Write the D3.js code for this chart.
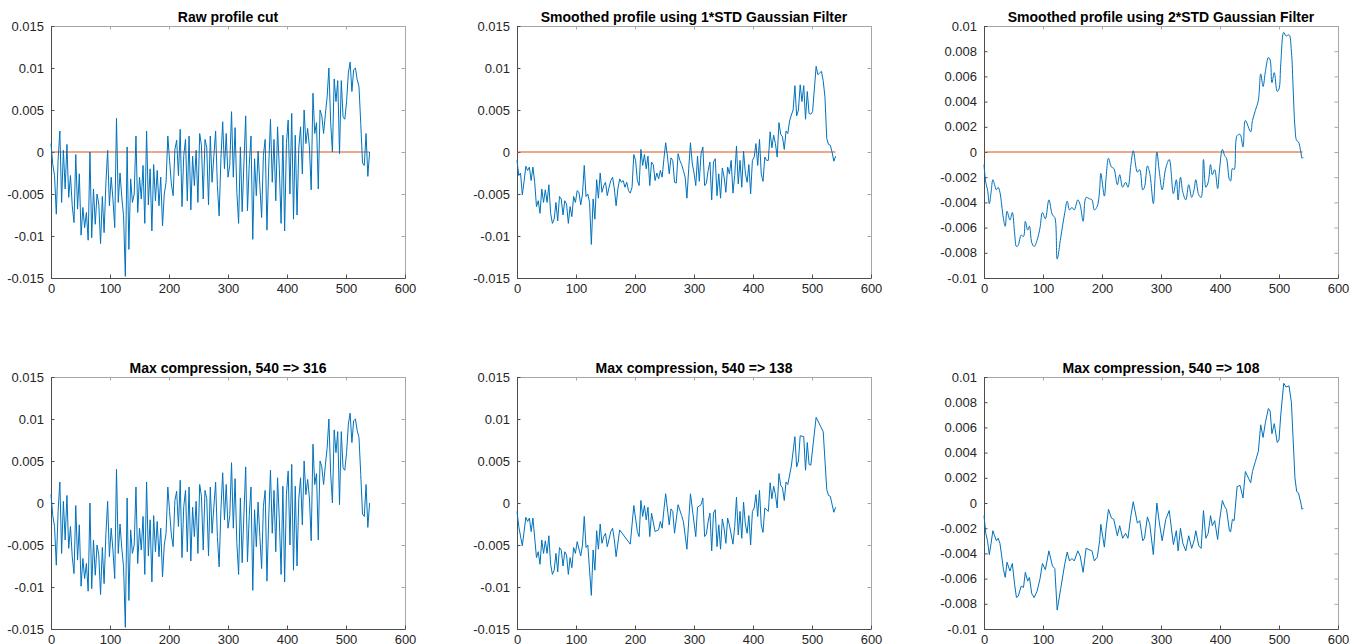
<!DOCTYPE html>
<html>
<head>
<meta charset="utf-8">
<script src="https://cdn.jsdelivr.net/npm/d3@7"></script>
<style>
  body { margin: 0; background: #fff; }
  svg { display: block; }
  .tick text { font-family: "Liberation Sans", Arial, sans-serif; font-size: 13px; fill: #262626; }
  .title { font-family: "Liberation Sans", Arial, sans-serif; font-size: 14px; font-weight: bold; fill: #000; }
</style>
</head>
<body>
<svg id="chart" width="1361" height="644"></svg>
<script>
// raw profile, one value every 3 samples (x = 0, 3, ..., 540)
const rawProfile = [
  0.001,-0.0015,-0.0028,-0.0074,-0.001,0.0025,-0.006,0.0002,-0.0044,0.0009,
  -0.0054,-0.0028,-0.0064,-0.0084,-0.0003,-0.0068,-0.0026,-0.0099,-0.0066,-0.009,
  -0.0072,-0.0105,0,-0.0102,-0.0044,-0.0086,-0.005,-0.0062,-0.0109,-0.0053,
  -0.0096,-0.0038,0.0002,-0.0064,-0.003,-0.0056,-0.009,0.004,-0.006,-0.0025,
  -0.0054,-0.0076,-0.0148,0.0006,-0.0116,-0.0032,-0.006,-0.005,0.0019,-0.0072,
  -0.003,-0.0056,-0.0016,-0.0085,0.0025,-0.0063,-0.002,-0.0094,-0.0015,-0.0058,
  -0.0022,-0.0064,-0.003,-0.0088,-0.005,-0.0036,0.0019,-0.001,-0.0038,-0.0052,
  0.0003,0.0014,-0.0028,0.0027,-0.0065,-0.0004,0.0015,-0.0058,0.0019,-0.0069,
  -0.0005,-0.004,0.0002,-0.006,0.0022,0.0008,-0.0056,0.0015,0.0005,-0.0063,
  0.0019,-0.0036,-0.0005,0.0025,-0.004,-0.0076,-0.0008,0.0036,-0.002,0.0022,
  -0.003,-0.0015,0.0048,-0.003,0.0029,-0.0048,-0.0085,0.0006,-0.0071,-0.0013,
  0.0043,-0.007,-0.0015,0.0019,-0.0104,-0.0008,-0.0052,0.0001,-0.004,-0.0078,
  -0.0004,0.0015,-0.0093,-0.0018,0.0039,-0.0036,0.0015,-0.0058,0.003,-0.002,
  -0.0085,0.002,-0.0094,0.001,0.0038,-0.005,0.0046,-0.008,0.002,-0.0075,
  0.0005,0.003,-0.0026,0.005,0.001,0.0028,0.0006,-0.0045,0.007,0.0022,
  0.0035,-0.0044,0.005,0.0043,0.0022,0.0045,0.0065,0.01,0.0035,0,
  0.0087,0.006,0.0085,-0.0002,0.0085,0.0042,0.0039,0.006,0.0094,0.0107,
  0.0072,0.0098,0.01,0.0086,0.0078,0.0034,-0.0013,-0.0016,0.0022,-0.0029,
  0
];

// 1*STD gaussian smoothed, same x grid
const smooth1 = [
  -0.001,-0.0028,-0.0025,-0.0051,-0.0035,-0.0017,-0.0022,-0.0018,-0.0034,-0.0018,
  -0.0036,-0.0065,-0.0058,-0.0073,-0.0044,-0.006,-0.0045,-0.006,-0.0039,-0.0073,
  -0.0085,-0.008,-0.006,-0.0082,-0.0053,-0.0056,-0.0075,-0.0058,-0.0062,-0.0085,
  -0.0065,-0.0077,-0.0053,-0.006,-0.0046,-0.0048,-0.0063,-0.005,-0.0016,-0.0053,
  -0.005,-0.006,-0.011,-0.0056,-0.008,-0.0033,-0.0055,-0.0025,-0.0048,-0.004,
  -0.0036,-0.0052,-0.0042,-0.0034,-0.003,-0.0044,-0.0064,-0.0044,-0.0032,-0.0036,
  -0.0034,-0.0042,-0.0036,-0.0046,-0.0049,-0.0042,-0.0003,-0.001,-0.0034,-0.004,
  0.0003,-0.0016,-0.0003,-0.002,-0.0005,-0.004,-0.0012,-0.0015,-0.0034,-0.0025,
  -0.0032,-0.0022,-0.003,-0.0008,0.0011,-0.0005,-0.0026,-0.0007,-0.001,-0.0036,
  -0.0037,-0.0002,-0.001,-0.0015,-0.0022,-0.003,-0.0055,-0.002,0.0011,-0.0013,
  -0.0025,-0.004,-0.0005,-0.0035,-0.0002,0.0006,-0.004,-0.0037,-0.0022,-0.0012,
  -0.0057,-0.0012,-0.0008,-0.0052,-0.0026,-0.0055,-0.0019,-0.003,-0.0048,-0.0018,
  -0.0026,-0.001,-0.0049,-0.0028,0.0007,-0.0038,-0.001,-0.0042,0.0001,-0.0025,
  -0.0036,-0.0015,-0.005,-0.001,-0.0006,0.001,-0.0016,0.0015,-0.0026,-0.0035,
  -0.0006,-0.001,-0.001,0.0024,0.0005,0.002,0.001,-0.0006,0.0035,0.0021,
  0.0018,0.0003,0.0025,0.0022,0.0037,0.0044,0.005,0.0079,0.0043,0.005,
  0.008,0.006,0.0079,0.0039,0.0072,0.0046,0.0045,0.0048,0.0075,0.0102,
  0.0092,0.0094,0.0096,0.0085,0.0065,0.0016,0.0009,0.0008,0,-0.0011,
  -0.0005
];

// samples kept by the 540 => 138 compression (x positions)
const keep138 = [0,3,9,15,18,21,24,27,33,36,39,42,45,48,51,54,57,60,63,66,69,72,75,78,81,84,87,90,93,96,99,102,108,111,114,117,120,126,129,132,135,138,141,144,147,150,153,159,162,165,168,174,192,198,204,207,210,213,216,219,222,225,228,234,240,243,246,249,252,258,261,264,267,273,279,282,288,294,303,306,312,315,318,321,324,327,330,333,336,339,342,345,348,351,354,357,360,366,369,372,375,378,381,384,387,390,393,396,399,402,405,408,411,414,417,420,426,429,432,435,438,441,444,447,450,453,456,459,465,471,474,477,480,486,489,492,495,498,507,519,525,528,531,537,540];

// 2*STD gaussian smoothed, [x, value]
const smooth2 = [
  [0,-0.001],[3,-0.0024],[6,-0.003],[9,-0.0041],[12,-0.0032],[15,-0.0022],[18,-0.0026],[21,-0.003],[24,-0.0028],[27,-0.0032],
  [30,-0.0042],[33,-0.0053],[36,-0.0059],[39,-0.0047],[44,-0.0054],[48,-0.0048],[52,-0.0065],[55,-0.0075],[58,-0.0074],[63,-0.0066],
  [67,-0.0067],[70,-0.0055],[74,-0.0062],[77,-0.0059],[81,-0.0072],[85,-0.0075],[90,-0.007],[95,-0.006],[99,-0.0048],[104,-0.0053],
  [110,-0.0038],[116,-0.005],[120,-0.0052],[124,-0.0085],[130,-0.0068],[137,-0.0048],[141,-0.0039],[145,-0.0046],[149,-0.0044],[153,-0.0046],
  [159,-0.0038],[163,-0.0042],[168,-0.0055],[173,-0.0036],[178,-0.0037],[183,-0.0038],[187,-0.0046],[192,-0.0043],[196,-0.003],[198,-0.0017],
  [204,-0.0035],[207,-0.002],[211,-0.0005],[216,-0.0012],[220,-0.0013],[226,-0.0026],[230,-0.0018],[235,-0.0028],[240,-0.0024],[244,-0.0028],
  [249,-0.001],[253,0.0001],[260,-0.0016],[264,-0.0014],[269,-0.003],[272,-0.0028],[277,-0.0011],[281,-0.0017],[287,-0.0041],[290,-0.002],
  [293,0],[297,-0.0015],[302,-0.003],[308,-0.0013],[314,-0.0006],[321,-0.0033],[326,-0.0022],[329,-0.0038],[333,-0.002],[337,-0.0032],
  [342,-0.0038],[347,-0.0026],[352,-0.0036],[356,-0.003],[359,-0.0022],[364,-0.0034],[368,-0.0036],[372,-0.0006],[376,-0.0028],[380,-0.0024],
  [384,-0.001],[387,-0.0018],[391,-0.0014],[396,-0.0029],[399,-0.0015],[404,0.0002],[408,-0.0003],[411,-0.0005],[416,-0.0022],[418,-0.0023],
  [421,-0.0013],[424,-0.0014],[429,0.0013],[434,0.0014],[439,0.0004],[443,0.0025],[452,0.0016],[455,0.0025],[460,0.0033],[465,0.0041],
  [469,0.0062],[473,0.0052],[477,0.0064],[482,0.0075],[485,0.0073],[488,0.0055],[492,0.0063],[497,0.0048],[500,0.005],[503,0.007],
  [508,0.0095],[512,0.0092],[517,0.0093],[521,0.008],[524,0.005],[527,0.002],[530,0.0009],[533,0.0008],[537,0],[539,-0.0005],[541,-0.0004]
];

const xTicks = [0, 100, 200, 300, 400, 500, 600];
const yTicks15 = [-0.015, -0.01, -0.005, 0, 0.005, 0.01, 0.015];
const yTicks10 = [-0.01, -0.008, -0.006, -0.004, -0.002, 0, 0.002, 0.004, 0.006, 0.008, 0.01];
const titles = [
  "Raw profile cut",
  "Smoothed profile using 1*STD Gaussian Filter",
  "Smoothed profile using 2*STD Gaussian Filter",
  "Max compression, 540 => 316",
  "Max compression, 540 => 138",
  "Max compression, 540 => 108"
];

const step = 3;
const rawPts = rawProfile.map((v, i) => [i * step, v]);
const s1Pts = smooth1.map((v, i) => [i * step, v]);
const keepSet = new Set(keep138);
const s1Kept = s1Pts.filter(d => keepSet.has(d[0]));

const panels = [
  { title: titles[0], data: rawPts, yTicks: yTicks15, zero: true, curve: d3.curveLinear },
  { title: titles[1], data: s1Pts, yTicks: yTicks15, zero: true, curve: d3.curveLinear },
  { title: titles[2], data: smooth2, yTicks: yTicks10, zero: true, curve: d3.curveCatmullRom },
  { title: titles[3], data: rawPts, yTicks: yTicks15, zero: false, curve: d3.curveLinear },
  { title: titles[4], data: s1Kept, yTicks: yTicks15, zero: false, curve: d3.curveLinear },
  { title: titles[5], data: smooth2, yTicks: yTicks10, zero: false, curve: d3.curveLinear }
];

const colLeft = [51, 517, 984];
const rowTop = [26, 377];
const w = 354, h = 252;
const svg = d3.select('#chart');
const fmt = d => String(d);

panels.forEach((p, i) => {
  const g = svg.append('g')
    .attr('transform', `translate(${colLeft[i % 3]},${rowTop[Math.floor(i / 3)]})`);

  const x = d3.scaleLinear().domain([0, 600]).range([0, w]);
  const yExt = d3.extent(p.yTicks);
  const y = d3.scaleLinear().domain(yExt).range([h, 0]);

  // box: top and right edges with inward ticks, no labels
  g.append('g').call(d3.axisTop(x).tickValues(xTicks).tickSize(-3.5).tickFormat(''))
    .call(a => a.select('.domain').attr('stroke', '#a6a6a6'))
    .call(a => a.selectAll('.tick line').attr('stroke', '#a6a6a6'));
  g.append('g').attr('transform', `translate(${w},0)`)
    .call(d3.axisRight(y).tickValues(p.yTicks).tickSize(-3.5).tickFormat(''))
    .call(a => a.select('.domain').attr('stroke', '#a6a6a6'))
    .call(a => a.selectAll('.tick line').attr('stroke', '#a6a6a6'));

  g.append('g').attr('transform', `translate(0,${h})`)
    .call(d3.axisBottom(x).tickValues(xTicks).tickSizeInner(-3.5).tickSizeOuter(0).tickPadding(6).tickFormat(fmt))
    .call(a => a.select('.domain').attr('stroke', '#4d4d4d'))
    .call(a => a.selectAll('.tick line').attr('stroke', '#4d4d4d'));
  g.append('g')
    .call(d3.axisLeft(y).tickValues(p.yTicks).tickSizeInner(-3.5).tickSizeOuter(0).tickPadding(7).tickFormat(fmt))
    .call(a => a.select('.domain').attr('stroke', '#4d4d4d'))
    .call(a => a.selectAll('.tick line').attr('stroke', '#4d4d4d'));

  g.selectAll('.tick text').attr('font-family', null).attr('font-size', null);

  if (p.zero) {
    g.append('path')
      .datum([[0, 0], [540, 0]])
      .attr('fill', 'none')
      .attr('stroke', '#D95319')
      .attr('stroke-width', 1)
      .attr('d', d3.line().x(d => x(d[0])).y(d => y(d[1])));
  }

  g.append('path')
    .datum(p.data)
    .attr('fill', 'none')
    .attr('stroke', '#0072BD')
    .attr('stroke-width', 1)
    .attr('stroke-linejoin', 'round')
    .attr('d', d3.line().curve(p.curve).x(d => x(d[0])).y(d => y(d[1])));

  g.append('text')
    .attr('class', 'title')
    .attr('x', w / 2)
    .attr('y', -4)
    .attr('text-anchor', 'middle')
    .text(p.title);
});
</script>
</body>
</html>
